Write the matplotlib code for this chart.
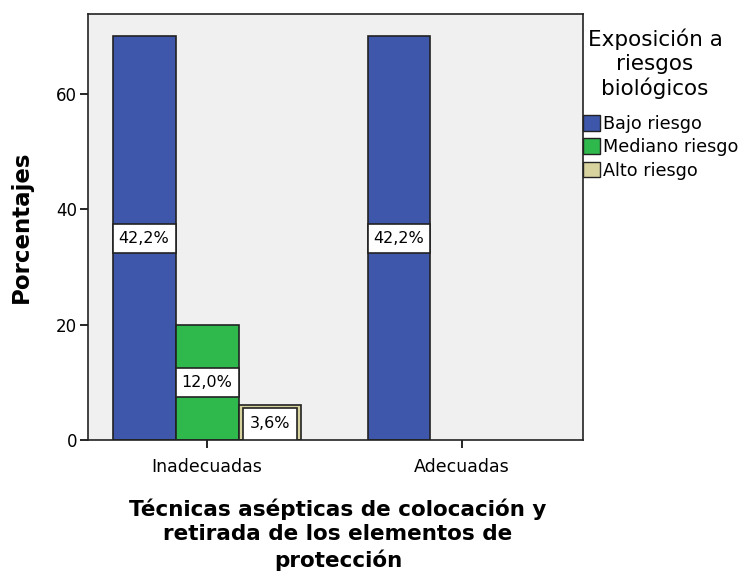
import numpy as np
import matplotlib.pyplot as plt
from matplotlib.patches import Patch, Rectangle

plt.rcParams['font.family'] = ['DejaVu Sans']

# Data
categories = ['Inadecuadas', 'Adecuadas']
series = ['Bajo riesgo', 'Mediano riesgo', 'Alto riesgo']
heights = {
    'Bajo riesgo': [70, 70],
    'Mediano riesgo': [20, 0],
    'Alto riesgo': [6, 0],
}
labels = {
    'Bajo riesgo': ['42,2%', '42,2%'],
    'Mediano riesgo': ['12,0%', None],
    'Alto riesgo': ['3,6%', None],
}
colors = ['#3e57ab', '#2fb84c', '#d8d29f']

fig = plt.figure(figsize=(7.41, 5.71), dpi=100)
ax = fig.add_axes([0.1188, 0.2294, 0.6680, 0.7461])
ax.set_facecolor('#f0f0f0')

x = np.arange(len(categories))
w = 0.247
box_h = 5.0  # label box height in data units
for i, s in enumerate(series):
    pos = x + (i - 1) * w
    for j in range(len(categories)):
        h = heights[s][j]
        if h <= 0:
            continue
        ax.bar(pos[j], h, width=w, color=colors[i], edgecolor='#222222', linewidth=1.2, zorder=2)
        if labels[s][j]:
            if h < box_h + 2:
                # small bar: box sits inside the bar, leaving a tan rim
                inset = 0.018
                bx0, bw = pos[j] - w / 2 + inset, w - 2 * inset
                by0, bh = 0, h - 0.4
            else:
                bx0, bw = pos[j] - w / 2, w
                by0, bh = h / 2 - box_h / 2, box_h
            ax.add_patch(Rectangle((bx0, by0), bw, bh, facecolor='white', edgecolor='#222222',
                                   linewidth=1.2, zorder=3))
            ax.text(bx0 + bw / 2, by0 + bh / 2, labels[s][j], ha='center', va='center',
                    fontsize=11.5, zorder=4)

ax.set_xlim(-0.467, 1.475)
ax.set_ylim(0, 73.9)
ax.set_xticks(x)
ax.set_xticklabels(categories, fontsize=12.5)
ax.set_yticks([0, 20, 40, 60])
ax.tick_params(axis='y', labelsize=12, length=6, width=1.2, direction='out', pad=2)
ax.tick_params(axis='x', length=6, width=1.2, direction='out', pad=7)
for sp in ax.spines.values():
    sp.set_linewidth(1.2)
    sp.set_color('#222222')

ax.set_ylabel('Porcentajes', fontsize=16.5, fontweight='bold')
ax.yaxis.set_label_coords(-0.112, 0.5)
ax.set_xlabel('Técnicas asépticas de colocación y\nretirada de los elementos de\nprotección',
              fontsize=15.5, fontweight='bold', linespacing=1.28)
ax.xaxis.set_label_coords(0.505, -0.137)

# legend title as separate text
fig.text(655 / 741, 1 - 29 / 571, 'Exposición a\nriesgos\nbiológicos', ha='center', va='top',
         fontsize=15.5, linespacing=1.2, multialignment='center')

handles = [Patch(facecolor=c, edgecolor='#222222', label=s) for c, s in zip(colors, series)]
leg = fig.legend(handles=handles, loc='upper left', bbox_to_anchor=(583 / 741, 1 - 115 / 571),
                 frameon=False, fontsize=12.7, handlelength=0.95, handleheight=1.0,
                 handletextpad=0.2, labelspacing=0.3, borderaxespad=0.0, borderpad=0.0)

fig.savefig('out.png', dpi=100)
